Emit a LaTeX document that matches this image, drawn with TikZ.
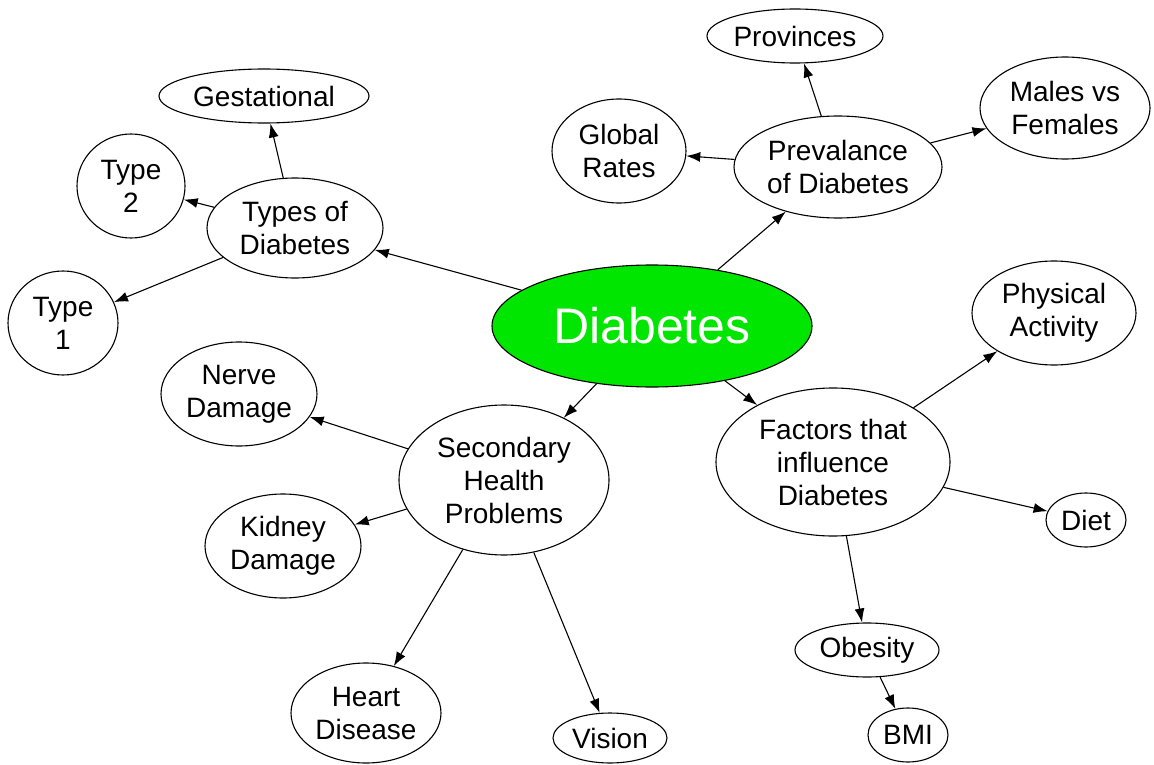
\documentclass[tikz,border=0pt]{standalone}
\usepackage{fontspec}
\setmainfont{Liberation Sans}
\usepackage{tikz}
\usetikzlibrary{arrows.meta,shapes}
\definecolor{diabgreen}{RGB}{0,230,0}

\begin{document}
\begin{tikzpicture}[x=1pt,y=-1pt,
    topic/.style={ellipse,draw,line width=1.1pt,inner sep=0pt,align=center,
      font=\fontsize{28}{33}\selectfont},
    link/.style={line width=1.1pt,-{Latex[length=14pt,width=10pt]}}]
    \fill[white] (0,0) rectangle (1154,765);
    \useasboundingbox (0,0) rectangle (1154,765);

    \node[topic,fill=diabgreen,text=white,minimum width=320pt,minimum height=122pt,
      font=\fontsize{50}{55}\selectfont] (diab) at (652,326) {Diabetes};

    \node[topic,minimum width=176pt,minimum height=100pt] (types) at (295,228) {Types of\\Diabetes};
    \node[topic,minimum width=210pt,minimum height=54pt] (gest) at (264,96) {Gestational};
    \node[topic,minimum width=108pt,minimum height=104pt] (type2) at (131,186) {Type\\2};
    \node[topic,minimum width=110pt,minimum height=104pt] (type1) at (63,323) {Type\\1};

    \node[topic,minimum width=208pt,minimum height=102pt] (preval) at (838,167) {Prevalance\\of Diabetes};
    \node[topic,minimum width=176pt,minimum height=54pt] (prov) at (795,36) {Provinces};
    \node[topic,minimum width=134pt,minimum height=104pt] (global) at (619,151) {Global\\Rates};
    \node[topic,minimum width=170pt,minimum height=102pt] (males) at (1065,108) {Males vs\\Females};

    \node[topic,minimum width=210pt,minimum height=150pt] (second) at (504,480) {Secondary\\Health\\Problems};
    \node[topic,minimum width=156pt,minimum height=104pt] (nerve) at (239,394) {Nerve\\Damage};
    \node[topic,minimum width=156pt,minimum height=104pt] (kidney) at (283,546) {Kidney\\Damage};
    \node[topic,minimum width=150pt,minimum height=100pt] (heart) at (366,713) {Heart\\Disease};
    \node[topic,minimum width=114pt,minimum height=50pt] (vision) at (610,738) {Vision};

    \node[topic,minimum width=234pt,minimum height=148pt] (factors) at (833,462) {Factors that\\influence\\Diabetes};
    \node[topic,minimum width=164pt,minimum height=104pt] (phys) at (1054,313) {Physical\\Activity};
    \node[topic,minimum width=80pt,minimum height=54pt] (diet) at (1086,520) {Diet};
    \node[topic,minimum width=144pt,minimum height=54pt] (obes) at (867,650) {Obesity};
    \node[topic,minimum width=80pt,minimum height=54pt] (bmi) at (908,735) {BMI};

    \draw[link] (diab) -- (types);
    \draw[link] (diab) -- (preval);
    \draw[link] (diab) -- (second);
    \draw[link] (diab) -- (factors);
    \draw[link] (types) -- (gest);
    \draw[link] (types) -- (type2);
    \draw[link] (types) -- (type1);
    \draw[link] (preval) -- (prov);
    \draw[link] (preval) -- (global);
    \draw[link] (preval) -- (males);
    \draw[link] (second) -- (nerve);
    \draw[link] (second) -- (kidney);
    \draw[link] (second) -- (heart);
    \draw[link] (second) -- (vision);
    \draw[link] (factors) -- (phys);
    \draw[link] (factors) -- (diet);
    \draw[link] (factors) -- (obes);
    \draw[link] (obes) -- (bmi);
\end{tikzpicture}
\end{document}
